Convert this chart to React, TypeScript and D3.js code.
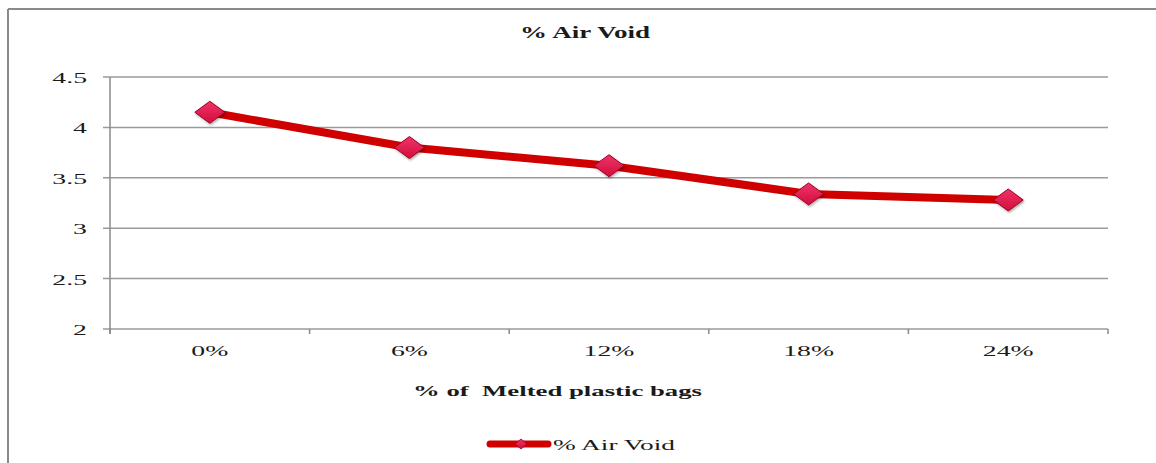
import React from "react";
import * as d3 from "d3";

const categories = ["0%", "6%", "12%", "18%", "24%"];
const airVoid = [4.15, 3.8, 3.62, 3.34, 3.28];
const yTicks = [2, 2.5, 3, 3.5, 4, 4.5];
const yTickLabels = ["2", "2.5", "3", "3.5", "4", "4.5"];
const title = "% Air Void";
const xTitle = "% of\u00a0 Melted plastic bags";
const seriesName = "% Air Void";

const W = 1156;
const H = 463;
const left = 110;
const right = 1108;
const top = 77;
const bottom = 329;
const SX = 1.85;
const FONT = "'Liberation Serif', 'Times New Roman', serif";

function SText({ x, y, anchor = "middle", size = 15, bold = false, sx = SX, len, children }: any) {
  return (
    <g transform={`translate(${x},${y}) scale(${len ? 1 : sx},1)`}>
      <text
        textAnchor={anchor}
        fontFamily={FONT}
        fontSize={size}
        fontWeight={bold ? "bold" : "normal"}
        fill="#1a1a1a"
        textLength={len}
        lengthAdjust={len ? "spacingAndGlyphs" : undefined}
      >
        {children}
      </text>
    </g>
  );
}

export default function App() {
  const x = d3.scaleBand<string>().domain(categories).range([left, right]).padding(0);
  const y = d3.scaleLinear().domain([2, 4.5]).range([bottom, top]);
  const cx = (c: string) => (x(c) as number) + x.bandwidth() / 2;
  const line = d3
    .line<number>()
    .x((_, i) => cx(categories[i]))
    .y((d) => y(d));
  const diamond = (w: number, h: number) => `M0,${-h / 2}L${w / 2},0L0,${h / 2}L${-w / 2},0Z`;
  const bounds = categories.map((c) => x(c) as number).concat([right]);

  return (
    <svg width={W} height={H} style={{ position: "absolute", left: 0, top: 0 }}>
      <defs>
        <linearGradient id="mk" x1="0" y1="0" x2="0" y2="1">
          <stop offset="0" stopColor="#f0336a" />
          <stop offset="1" stopColor="#d10f3c" />
        </linearGradient>
        <filter id="sh" x="-50%" y="-50%" width="200%" height="200%">
          <feDropShadow dx="1" dy="1.5" stdDeviation="1.2" floodColor="#000" floodOpacity="0.35" />
        </filter>
      </defs>
      <rect x={0} y={0} width={W} height={H} fill="#fff" />
      <line x1={8} y1={9} x2={W} y2={9} stroke="#8a8a8a" strokeWidth={2} />
      <line x1={8} y1={9} x2={8} y2={H} stroke="#8a8a8a" strokeWidth={2} />

      {yTicks.map((t) => (
        <line key={t} x1={103} x2={right} y1={y(t)} y2={y(t)} stroke="#9a9a9a" strokeWidth={1.5} />
      ))}
      <line x1={left} x2={left} y1={top} y2={bottom + 5} stroke="#8a8a8a" strokeWidth={1.5} />
      {bounds.map((b, i) => (
        <line key={i} x1={b} x2={b} y1={bottom} y2={bottom + 5} stroke="#8a8a8a" strokeWidth={1.5} />
      ))}

      {yTicks.map((t, i) => (
        <SText key={t} x={87} y={y(t) + 6} anchor="end">
          {yTickLabels[i]}
        </SText>
      ))}
      {categories.map((c) => (
        <SText key={c} x={cx(c)} y={356}>
          {c}
        </SText>
      ))}

      <path d={line(airVoid) || ""} fill="none" stroke="#d00000" strokeWidth={8} strokeLinejoin="round" />
      {airVoid.map((v, i) => (
        <path
          key={i}
          d={diamond(30, 22)}
          transform={`translate(${cx(categories[i])},${y(v)})`}
          fill="url(#mk)"
          stroke="#a0001c"
          strokeWidth={1}
          filter="url(#sh)"
        />
      ))}

      <SText x={520} y={38} anchor="start" size={16} bold len={130}>
        {title}
      </SText>
      <SText x={413} y={396} anchor="start" size={15} bold len={289}>
        {xTitle}
      </SText>

      <line x1={490} x2={548} y1={444} y2={444} stroke="#d00000" strokeWidth={7} strokeLinecap="round" />
      <path d={diamond(12, 10)} transform="translate(521,444)" fill="url(#mk)" stroke="#a0001c" strokeWidth={0.8} />
      <SText x={553} y={450} anchor="start" size={15} len={122}>
        {seriesName}
      </SText>
    </svg>
  );
}
